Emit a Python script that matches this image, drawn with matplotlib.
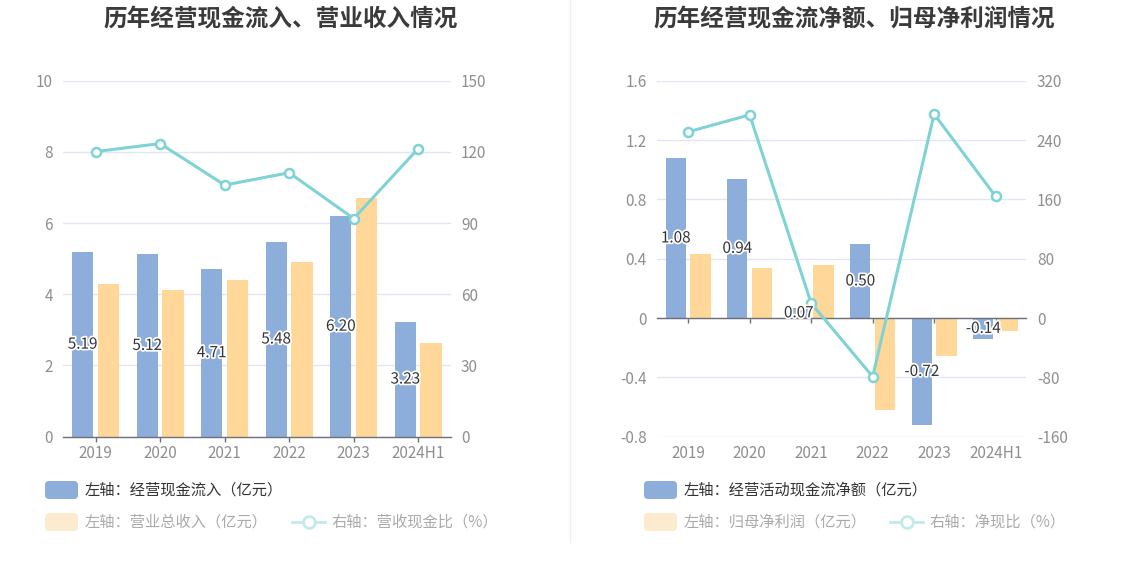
import matplotlib
matplotlib.use('Agg')
import matplotlib.pyplot as plt
from matplotlib.patches import FancyBboxPatch
from matplotlib.lines import Line2D
import matplotlib.patheffects as pe
import matplotlib.transforms as mtransforms

plt.rcParams['font.family'] = ['Noto Sans CJK SC', 'DejaVu Sans']

# ---------------- data ----------------
categories = ['2019', '2020', '2021', '2022', '2023', '2024H1']

# left chart
op_cash_inflow = [5.19, 5.12, 4.71, 5.48, 6.20, 3.23]      # 经营现金流入（亿元）
total_revenue = [4.30, 4.12, 4.41, 4.90, 6.71, 2.64]       # 营业总收入（亿元）
cash_revenue_ratio = [120.1, 123.5, 106.0, 111.2, 91.9, 121.4]  # 营收现金比（%）

# right chart
net_op_cash = [1.08, 0.94, 0.07, 0.50, -0.72, -0.14]       # 经营活动现金流净额（亿元）
net_profit = [0.43, 0.34, 0.36, -0.62, -0.255, -0.085]     # 归母净利润（亿元）
net_cash_ratio = [251, 274, 20, -79, 275, 164]             # 净现比（%）

left_yticks = [0, 2, 4, 6, 8, 10]
left_ylabels = ['0', '2', '4', '6', '8', '10']
left_y2ticks = [0, 30, 60, 90, 120, 150]
left_y2labels = ['0', '30', '60', '90', '120', '150']
right_yticks = [-0.8, -0.4, 0, 0.4, 0.8, 1.2, 1.6]
right_ylabels = ['-0.8', '-0.4', '0', '0.4', '0.8', '1.2', '1.6']
right_y2ticks = [-160, -80, 0, 80, 160, 240, 320]
right_y2labels = ['-160', '-80', '0', '80', '160', '240', '320']

titles = ['历年经营现金流入、营业收入情况', '历年经营现金流净额、归母净利润情况']
legend_left = ['左轴：经营现金流入（亿元）', '左轴：营业总收入（亿元）', '右轴：营收现金比（%）']
legend_right = ['左轴：经营活动现金流净额（亿元）', '左轴：归母净利润（亿元）', '右轴：净现比（%）']

# ---------------- style ----------------
BLUE = '#8DADDB'
ORANGE = '#FFD899'
TEAL = '#7FD3D5'
BLUE_L = '#8DADDB'
ORANGE_L = '#FDEBCF'
TEAL_L = '#C2EAEC'
GRID = '#E0E6F1'
AXIS = '#6E7079'
TICK = '#8F8F8F'
TXT = '#333333'
TXT_L = '#AAAAAA'

W, H = 1134, 582
fig = plt.figure(figsize=(W / 100, H / 100), dpi=100)
fig.patch.set_facecolor('white')


def fx(x):
    return x / W


def fy(y):
    return 1 - y / H


def panel(x0, x1, y0, y1, b1, b2, line, yt, yl, y2t, y2l, zero_axis):
    ax = fig.add_axes([fx(x0), fy(y1), (x1 - x0) / W, (y1 - y0) / H])
    ax2 = ax.twinx()
    xs = list(range(len(categories)))
    ax.set_xlim(-0.5, len(categories) - 0.5)
    ax.set_ylim(yt[0], yt[-1])
    ax2.set_ylim(y2t[0], y2t[-1])

    ax.bar([i - 0.2 for i in xs], b1, 0.33, color=BLUE, zorder=2)
    ax.bar([i + 0.2 for i in xs], b2, 0.33, color=ORANGE, zorder=2)

    ax2.plot(xs, line, color=TEAL, lw=2.2, marker='o', ms=6.5, mfc='white',
             mec=TEAL, mew=1.8, zorder=3, clip_on=False)

    for i, v in zip(xs, b1):
        ax2.text(i - 0.2, v / 2, f'{v:.2f}', transform=ax.transData,
                 ha='center', va='center', fontsize=11, color=TXT, zorder=6,
                 path_effects=[pe.withStroke(linewidth=2.5, foreground='white')])

    ax.set_yticks(yt)
    ax.set_yticklabels(yl)
    ax2.set_yticks(y2t)
    ax2.set_yticklabels(y2l)
    ax.yaxis.grid(True, color=GRID, lw=1)
    ax.set_axisbelow(True)
    for a in (ax, ax2):
        for s in ('left', 'right', 'top'):
            a.spines[s].set_visible(False)
    ax2.spines['bottom'].set_visible(False)
    ax.spines['bottom'].set_color(AXIS)
    ax.spines['bottom'].set_linewidth(1)
    ax.tick_params(axis='y', length=0, pad=7.5, labelsize=11, labelcolor=TICK)
    ax2.tick_params(axis='y', length=0, pad=7.5, labelsize=11, labelcolor=TICK)
    ax.set_xticks(xs)
    ax.tick_params(axis='x', length=3.6, width=1, color=AXIS, direction='out')
    if zero_axis:
        ax.spines['bottom'].set_position(('data', 0))
    ax.tick_params(axis='x', labelbottom=False)
    trans = mtransforms.blended_transform_factory(ax.transData, ax.transAxes)
    off = -(453.5 - y1) / (y1 - y0)
    for i, c in zip(xs, categories):
        ax.text(i, off, c, transform=trans, ha='center', va='center',
                fontsize=11, color=TICK, clip_on=False)
    return ax, ax2


panel(63.3, 450.5, 80.7, 436.5, op_cash_inflow, total_revenue, cash_revenue_ratio,
      left_yticks, left_ylabels, left_y2ticks, left_y2labels, False)
panel(657.4, 1026.4, 80.7, 436.7, net_op_cash, net_profit, net_cash_ratio,
      right_yticks, right_ylabels, right_y2ticks, right_y2labels, True)

# titles
fig.text(fx(281), fy(19), titles[0], ha='center', va='center', fontsize=17,
         fontweight='bold', color='#3A3A3A')
fig.text(fx(854), fy(19), titles[1], ha='center', va='center', fontsize=17,
         fontweight='bold', color='#3A3A3A')

# divider
fig.add_artist(Line2D([fx(570), fx(570)], [fy(0), fy(542)], color='#EEEEEE', lw=1))

ident = mtransforms.IdentityTransform()


def swatch(x0, ytop, color):
    p = FancyBboxPatch((x0, H - ytop - 18), 33, 18,
                       boxstyle='round,pad=0,rounding_size=4',
                       transform=ident, facecolor=color, edgecolor='none')
    fig.add_artist(p)


def line_icon(x0, x1, yc):
    fig.add_artist(Line2D([x0, x1], [H - yc, H - yc], color=TEAL_L, lw=2, transform=ident))
    fig.add_artist(Line2D([(x0 + x1) / 2], [H - yc], marker='o', ms=8.5, mfc='white',
                          mec=TEAL_L, mew=2, transform=ident))


def label(x, yc, s, color):
    fig.text(fx(x), fy(yc), s, ha='left', va='center', fontsize=11, color=color)


# left legend
swatch(45, 481, BLUE_L)
label(85, 490, legend_left[0], TXT)
swatch(45, 513, ORANGE_L)
label(85, 522, legend_left[1], TXT_L)
line_icon(292, 325, 522)
label(332, 522, legend_left[2], TXT_L)

# right legend
swatch(644, 481, BLUE_L)
label(684, 490, legend_right[0], TXT)
swatch(644, 513, ORANGE_L)
label(684, 522, legend_right[1], TXT_L)
line_icon(890, 923, 522)
label(930, 522, legend_right[2], TXT_L)

fig.savefig('out.png', dpi=100, facecolor='white')
